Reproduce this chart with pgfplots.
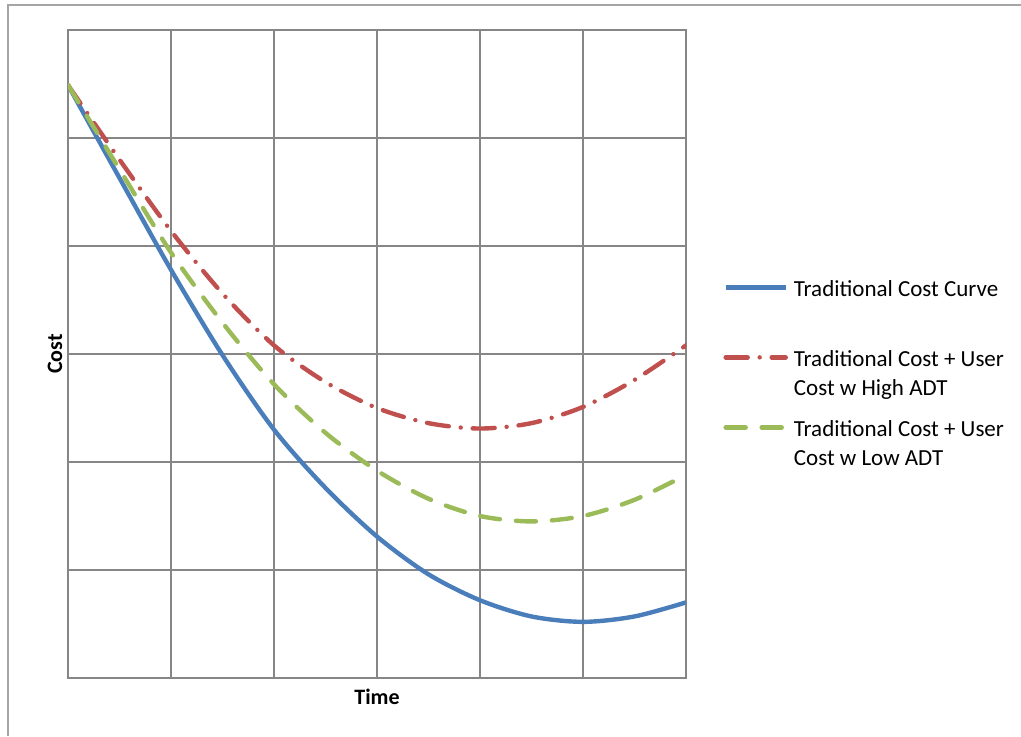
\documentclass[border=0pt]{standalone}
\usepackage{pgfplots}
\pgfplotsset{compat=1.18}
\usepackage{fontspec}
\setmainfont{Carlito}
\definecolor{gridgray}{RGB}{134,134,134}
\definecolor{framegray}{RGB}{165,165,165}
\definecolor{cblue}{RGB}{74,126,187}
\definecolor{cred}{RGB}{192,80,77}
\definecolor{cgreen}{RGB}{155,187,89}
\newcommand{\twoline}[2]{\vtop{\hbox{#1}\hbox{#2}}}
\begin{document}
\begin{tikzpicture}
\begin{axis}[
  at={(34pt,29pt)}, anchor=south west,
  scale only axis, width=309pt, height=324pt,
  xmin=0, xmax=6, ymin=0, ymax=6,
  xtick={0,1,2,3,4,5,6}, ytick={0,1,2,3,4,5,6},
  xticklabels={}, yticklabels={},
  major tick length=0pt,
  grid=major,
  grid style={gridgray, line width=0.9pt},
  axis line style={gridgray, line width=0.9pt},
  xlabel={\bfseries Time}, ylabel={\bfseries Cost},
  label style={font=\fontsize{11}{13}\selectfont},
  xlabel style={at={(axis description cs:0.5,-0.0293)}, anchor=center},
  ylabel style={at={(axis description cs:-0.021,0.5)}, anchor=center},
  legend cell align=left,
  legend style={at={(axis description cs:1.06,0.622)}, anchor=north west,
    draw=none, fill=none, inner sep=0pt, row sep=23pt, column sep=1.5pt,
    font=\fontsize{11.5}{14.5}\selectfont,
    nodes={inner sep=1.5pt, text height=9pt, text depth=0pt}},
  legend image code/.code={\draw[#1] (0pt,0pt) -- (30pt,0pt);},
]
\addplot[cblue, line width=2.2pt, smooth] coordinates {
(0,5.49) (0.5,4.63) (1,3.78) (1.5,2.99) (2,2.30) (2.5,1.76) (3,1.31) (3.5,0.96) (4,0.72) (4.5,0.57) (5,0.52) (5.5,0.57) (6,0.70)};
\addlegendentry{Traditional Cost Curve}
\addplot[cred, line width=2.2pt, line cap=round, dash pattern=on 11pt off 6pt on 0pt off 6pt, smooth] coordinates {
(0,5.49) (0.5,4.80) (1,4.14) (1.5,3.56) (2,3.08) (2.5,2.74) (3,2.50) (3.5,2.36) (4,2.31) (4.5,2.36) (5,2.51) (5.5,2.76) (6,3.08)};
\addlegendentry{\twoline{Traditional Cost + User}{Cost w High ADT}}
\addplot[cgreen, line width=2.2pt, line cap=round, dash pattern=on 10pt off 8pt, smooth] coordinates {
(0,5.49) (0.5,4.71) (1,3.94) (1.5,3.29) (2,2.72) (2.5,2.27) (3,1.92) (3.5,1.66) (4,1.50) (4.5,1.45) (5,1.50) (5.5,1.65) (6,1.88)};
\addlegendentry{\twoline{Traditional Cost + User}{Cost w Low ADT}}
\end{axis}
\draw[framegray, line width=1pt] (4pt,0pt) -- (4pt,365.5pt) -- (510.5pt,365.5pt);
\pgfresetboundingbox
\useasboundingbox (0pt,0pt) rectangle (510.5pt,368pt);
\end{tikzpicture}
\end{document}
